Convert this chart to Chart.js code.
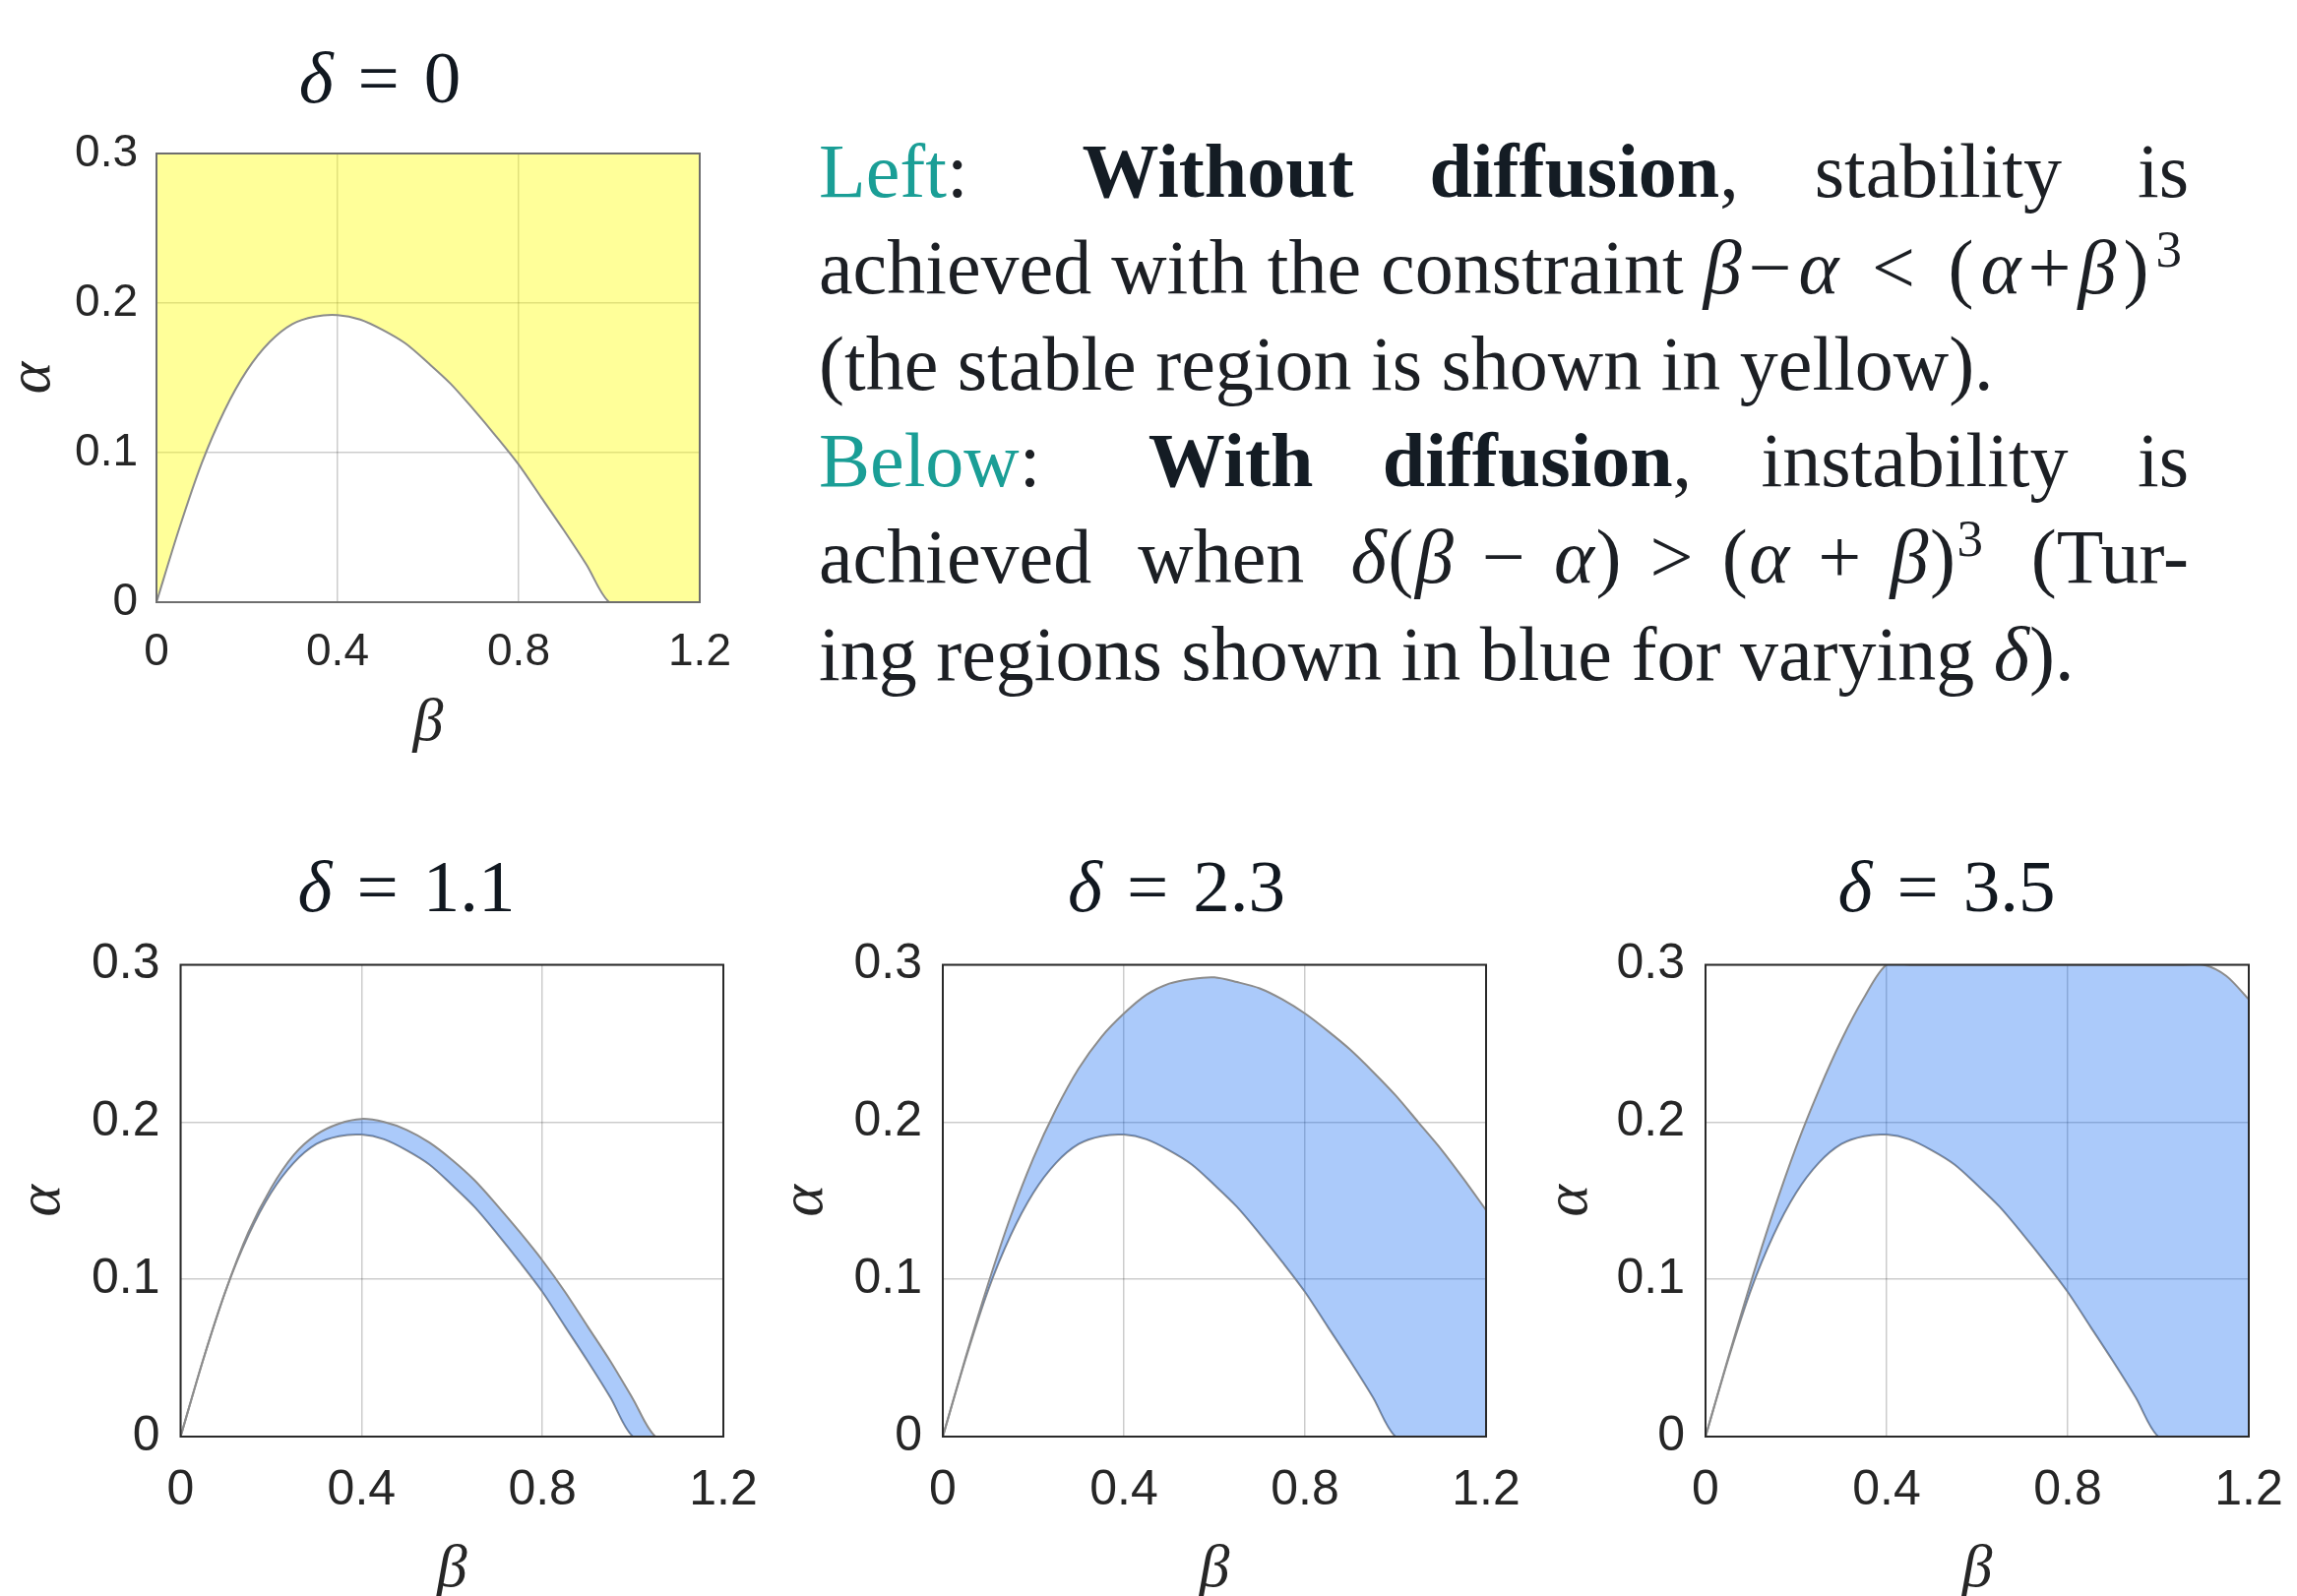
<!DOCTYPE html>
<html>
<head>
<meta charset="utf-8">
<script src="https://cdn.jsdelivr.net/npm/chart.js@4.4.1/dist/chart.umd.min.js"></script>
<style>
  html, body { margin: 0; padding: 0; background: #fff; overflow: hidden; }
  body { width: 2334px; height: 1622px; position: relative; }
  canvas { position: absolute; }
  #notes {
    position: absolute; left: 832px; top: 124.6px; width: 1392px;
    font-family: "Liberation Serif", serif; font-size: 78px; line-height: 98.2px;
    color: #1c1f24;
  }
  #notes .jl { text-align: justify; text-align-last: justify; }
  #notes .hl { color: #1a9e96; }
  #notes b { color: #141c24; }
  #notes .m2 { letter-spacing: 0.09em; }
  #notes .m5 { display: inline-block; white-space: nowrap; letter-spacing: 0.02em; }
  #notes sup { font-size: 0.68em; line-height: 0; vertical-align: baseline; position: relative; top: -0.51em; }
</style>
</head>
<body>
<canvas id="panel0" width="780" height="800" style="left:0;top:0"></canvas>
<canvas id="panel1" width="775" height="792" style="left:0;top:830px"></canvas>
<canvas id="panel2" width="775" height="792" style="left:775px;top:830px"></canvas>
<canvas id="panel3" width="784" height="792" style="left:1550px;top:830px"></canvas>

<div id="notes">
  <div class="jl"><span class="hl">Left</span>:&ensp; <b>Without diffusion</b>, stability is</div>
  <div class="jl">achieved with the constraint <span class="m2"><i>β</i>−<i>α</i>&#8197;&lt;&#8197;(<i>α</i>+<i>β</i>)<sup>3</sup></span></div>
  <div>(the stable region is shown in yellow).</div>
  <div class="jl"><span class="hl">Below</span>:&ensp; <b>With diffusion</b>, instability is</div>
  <div class="jl">achieved when <span class="m5"><i>δ</i>(<i>β</i>&#8196;−&#8196;<i>α</i>)&#8196;&gt;&#8196;(<i>α</i>&#8196;+&#8196;<i>β</i>)<sup>3</sup></span> (Tur-</div>
  <div>ing regions shown in blue for varying <i>δ</i>).</div>
</div>

<script>
(function () {
    "use strict";

    // Values (beta on x, alpha on y)
    const betaGrid = [
        0, 0.05, 0.1, 0.15, 0.2, 0.25, 0.3, 0.35, 0.4, 0.45, 0.5, 0.55, 0.6,
        0.65, 0.7, 0.75, 0.8, 0.85, 0.9, 0.95, 1.0, 1.05, 1.1, 1.15, 1.2,
    ];
    // stability boundary (delta = 0 panel, lower edge of blue bands)
    const alphaStable = [
        0, 0.049, 0.093, 0.128, 0.155, 0.174, 0.186, 0.191, 0.192, 0.189,
        0.182, 0.173, 0.160, 0.146, 0.129, 0.111, 0.092, 0.070, 0.048, 0.025,
        0, 0, 0, 0, 0,
    ];
    // upper edges of the Turing regions
    const alphaDelta11 = [
        0, 0.049, 0.093, 0.130, 0.158, 0.179, 0.192, 0.199, 0.202, 0.200,
        0.195, 0.187, 0.176, 0.163, 0.147, 0.130, 0.112, 0.092, 0.070, 0.048,
        0.024, 0, 0, 0, 0,
    ];
    const alphaDelta23 = [
        0, 0.050, 0.097, 0.140, 0.177, 0.208, 0.234, 0.254, 0.269, 0.281,
        0.288, 0.291, 0.292, 0.289, 0.285, 0.278, 0.269, 0.258, 0.246, 0.232,
        0.217, 0.200, 0.183, 0.164, 0.144,
    ];
    const alphaDelta35 = [
        0, 0.050, 0.098, 0.143, 0.184, 0.220, 0.252, 0.279, 0.300, 0.300,
        0.300, 0.300, 0.300, 0.300, 0.300, 0.300, 0.300, 0.300, 0.300, 0.300,
        0.300, 0.300, 0.300, 0.293, 0.278,
    ];
    const xTickValues = [0, 0.4, 0.8, 1.2];
    const xTickLabels = ["0", "0.4", "0.8", "1.2"];
    const yTickValues = [0, 0.1, 0.2, 0.3];
    const yTickLabels = ["0", "0.1", "0.2", "0.3"];

    const serifFont = '"Liberation Serif", serif';
    const sansFont = '"Liberation Sans", Arial, sans-serif';
    const gridColor = "rgba(0, 0, 0, 0.2)";
    const curveColor = "#8c8c8c";
    const textColor = "#262626";
    const yellowFill = "rgba(255, 255, 0, 0.4)";
    const blueFill = "rgba(0, 95, 240, 0.33)";

    const toPoints = (ys) => betaGrid.map((b, i) => ({ x: b, y: ys[i] }));

    // Title "delta = value", delta in italic
    const panelTitle = {
        id: "panelTitle",
        afterDraw(chart, args, opts) {
            const ctx = chart.ctx;
            const italic = "italic " + opts.size + "px " + serifFont;
            const upright = opts.size + "px " + serifFont;
            const rest = "\u2004=\u2004" + opts.value;
            ctx.save();
            ctx.font = italic;
            const w1 = ctx.measureText("δ").width;
            ctx.font = upright;
            const w2 = ctx.measureText(rest).width;
            const x0 = opts.x - (w1 + w2) / 2;
            ctx.fillStyle = "#111820";
            ctx.textAlign = "left";
            ctx.textBaseline = "alphabetic";
            ctx.font = italic;
            ctx.fillText("δ", x0, opts.y);
            ctx.font = upright;
            ctx.fillText(rest, x0 + w1, opts.y);
            ctx.restore();
        },
    };

    // Box round the plot area
    const axesBox = {
        id: "axesBox",
        afterDatasetsDraw(chart, args, opts) {
            const { ctx, chartArea: a } = chart;
            ctx.save();
            ctx.strokeStyle = opts.color;
            ctx.lineWidth = opts.width;
            ctx.strokeRect(a.left, a.top, a.right - a.left, a.bottom - a.top);
            ctx.restore();
        },
    };

    function buildScales(p) {
        return {
            x: {
                type: "linear",
                min: 0,
                max: 1.2,
                afterBuildTicks: (s) => {
                    s.ticks = xTickValues.map((v) => ({ value: v }));
                },
                afterFit: (s) => {
                    s.height = p.xHeight;
                    s.paddingLeft = 0;
                    s.paddingRight = 0;
                },
                ticks: {
                    autoSkip: false,
                    maxRotation: 0,
                    padding: p.xTickPad,
                    color: textColor,
                    font: { family: sansFont, size: p.tickSize, lineHeight: 1 },
                    callback: (v, i) => xTickLabels[i],
                },
                grid: { color: gridColor, lineWidth: 1.5, drawTicks: false },
                border: { display: false },
                title: {
                    display: true,
                    text: "β",
                    color: textColor,
                    font: { family: serifFont, style: "italic", size: 62, lineHeight: 1 },
                    padding: { top: 0, bottom: p.betaPad },
                },
            },
            y: {
                type: "linear",
                min: 0,
                max: 0.3,
                afterBuildTicks: (s) => {
                    s.ticks = yTickValues.map((v) => ({ value: v }));
                },
                afterFit: (s) => {
                    s.width = p.yWidth;
                    s.paddingTop = 0;
                    s.paddingBottom = 0;
                },
                ticks: {
                    autoSkip: false,
                    padding: p.yTickPad,
                    color: textColor,
                    font: { family: sansFont, size: p.tickSize, lineHeight: 1 },
                    callback: (v, i) => yTickLabels[i],
                },
                grid: { color: gridColor, lineWidth: 1.5, drawTicks: false },
                border: { display: false },
                title: {
                    display: true,
                    text: "α",
                    color: textColor,
                    font: { family: serifFont, style: "italic", size: 62, lineHeight: 1 },
                    padding: { top: p.alphaPad, bottom: 0 },
                },
            },
        };
    }

    function makePanel(id, datasets, p) {
        const ctx = document.getElementById(id).getContext("2d");
        return new Chart(ctx, {
            type: "line",
            data: { datasets: datasets },
            options: {
                responsive: false,
                animation: false,
                devicePixelRatio: 1,
                layout: { padding: { left: 0, top: p.padTop, right: p.padRight, bottom: 0 } },
                plugins: {
                    legend: { display: false },
                    tooltip: { enabled: false },
                    panelTitle: { value: p.delta, x: p.titleX, y: p.titleY, size: 75 },
                    axesBox: { color: p.boxColor, width: 2 },
                },
                scales: buildScales(p),
            },
            plugins: [panelTitle, axesBox],
        });
    }

    const lineStyle = {
        borderColor: curveColor,
        borderWidth: 2,
        pointRadius: 0,
        tension: 0.3,
        capBezierPoints: false,
    };

    // delta = 0 : stable region in yellow
    makePanel(
        "panel0",
        [Object.assign({ data: toPoints(alphaStable), fill: "end", backgroundColor: yellowFill }, lineStyle)],
        {
            delta: "0", titleX: 386, titleY: 104,
            padTop: 156, padRight: 69, yWidth: 159, xHeight: 188,
            tickSize: 46, xTickPad: 28, yTickPad: 19, betaPad: 33, alphaPad: 3,
            boxColor: "#6e6e6e",
        }
    );

    // Turing regions in blue
    const bottomPanels = [
        { id: "panel1", alpha: alphaDelta11, delta: "1.1", titleX: 413, yWidth: 183.5, padRight: 40, alphaPad: 13 },
        { id: "panel2", alpha: alphaDelta23, delta: "2.3", titleX: 420.5, yWidth: 183, padRight: 40, alphaPad: 13 },
        { id: "panel3", alpha: alphaDelta35, delta: "3.5", titleX: 428, yWidth: 183, padRight: 49, alphaPad: 15 },
    ];
    bottomPanels.forEach((b) => {
        makePanel(
            b.id,
            [
                Object.assign({ data: toPoints(b.alpha), fill: "+1", backgroundColor: blueFill }, lineStyle),
                Object.assign({ data: toPoints(alphaStable), fill: false }, lineStyle),
            ],
            {
                delta: b.delta, titleX: b.titleX, titleY: 96,
                padTop: 150.5, padRight: b.padRight, yWidth: b.yWidth, xHeight: 162,
                tickSize: 50, xTickPad: 30, yTickPad: 21, betaPad: -5, alphaPad: b.alphaPad,
                boxColor: "#2a2a2a",
            }
        );
    });
})();
</script>
</body>
</html>
